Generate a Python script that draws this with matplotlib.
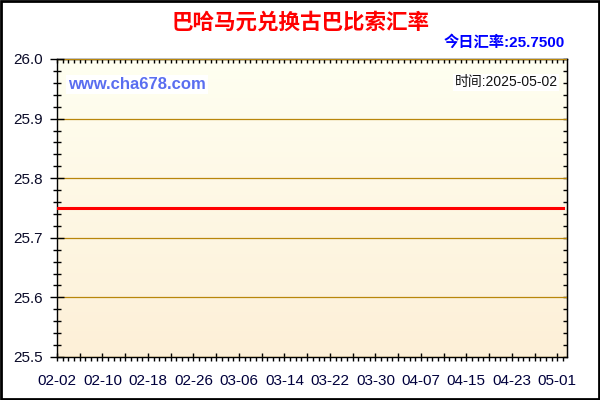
import numpy as np
import pandas as pd
import matplotlib
matplotlib.use("Agg")
import matplotlib.pyplot as plt
import matplotlib.dates as mdates
from matplotlib.ticker import MultipleLocator, FixedLocator, NullFormatter
from matplotlib.patches import Rectangle

# ---- data ----
title = "巴哈马元兑换古巴比索汇率"
today_label = "今日汇率:25.7500"
time_label = "时间:2025-05-02"
site_label = "www.cha678.com"
start_date = "2025-02-02"
end_date = "2025-05-02"
dates = pd.date_range(start_date, end_date, freq="D")
rates = [
    25.75, 25.75, 25.75, 25.75, 25.75, 25.75, 25.75, 25.75, 25.75, 25.75,
    25.75, 25.75, 25.75, 25.75, 25.75, 25.75, 25.75, 25.75, 25.75, 25.75,
    25.75, 25.75, 25.75, 25.75, 25.75, 25.75, 25.75, 25.75, 25.75, 25.75,
    25.75, 25.75, 25.75, 25.75, 25.75, 25.75, 25.75, 25.75, 25.75, 25.75,
    25.75, 25.75, 25.75, 25.75, 25.75, 25.75, 25.75, 25.75, 25.75, 25.75,
    25.75, 25.75, 25.75, 25.75, 25.75, 25.75, 25.75, 25.75, 25.75, 25.75,
    25.75, 25.75, 25.75, 25.75, 25.75, 25.75, 25.75, 25.75, 25.75, 25.75,
    25.75, 25.75, 25.75, 25.75, 25.75, 25.75, 25.75, 25.75, 25.75, 25.75,
    25.75, 25.75, 25.75, 25.75, 25.75, 25.75, 25.75, 25.75, 25.75, 25.75,
]
y_ticks = [25.5, 25.6, 25.7, 25.8, 25.9, 26.0]
x_tick_labels = ["02-02", "02-10", "02-18", "02-26", "03-06", "03-14",
                 "03-22", "03-30", "04-07", "04-15", "04-23", "05-01"]

plt.rcParams['font.family'] = ['Liberation Sans', 'Noto Sans CJK SC', 'DejaVu Sans']

fig = plt.figure(figsize=(6, 4), dpi=100)
fig.patch.set_facecolor("white")
ax = fig.add_axes([0.095, 0.1075, 0.85, 0.745])

x0 = mdates.date2num(pd.Timestamp(start_date))
xmin, xmax = x0, x0 + 89.7
ax.set_xlim(xmin, xmax)
ax.set_ylim(25.5, 26.0)

# gradient background
grad = np.linspace(0, 1, 256).reshape(-1, 1)
top = np.array([1.0, 1.0, 0.945])
bot = np.array([0.992, 0.94, 0.845])
img = top[None, None, :] * (1 - grad[:, :, None]) + bot[None, None, :] * grad[:, :, None]
ax.imshow(img, extent=[xmin, xmax, 25.5, 26.0], aspect="auto", origin="upper", zorder=0)

ax.grid(axis="y", color="#B8860B", linewidth=0.9, zorder=1)
ax.set_axisbelow(False)

ax.plot(mdates.date2num(dates), rates, color="#FF0000", linewidth=2.2, zorder=3, clip_on=True)

# x ticks
label_pos = [x0 + 8 * i for i in range(len(x_tick_labels))]
major_pos = [x0 + 4 * i for i in range(23)]
major_labels = []
for p in major_pos:
    if p in label_pos:
        major_labels.append(x_tick_labels[label_pos.index(p)])
    else:
        major_labels.append("")
ax.xaxis.set_major_locator(FixedLocator(major_pos))
ax.set_xticklabels(major_labels)
ax.xaxis.set_minor_locator(MultipleLocator(1))
ax.tick_params(axis="x", which="major", direction="inout", length=6, width=1,
               labelsize=11, labelcolor="#00003C", pad=9)
ax.tick_params(axis="x", which="minor", direction="out", length=3, width=1)

# y ticks
ax.set_yticks(y_ticks)
ax.set_yticklabels([f"{v:.1f}" for v in y_ticks])
ax.yaxis.set_minor_locator(MultipleLocator(0.02))
ax.tick_params(axis="y", which="major", direction="inout", length=10, width=1,
               labelsize=11, labelcolor="#0A0A28", pad=5)
ax.tick_params(axis="y", which="minor", direction="inout", length=6, width=1)

# top / right inward ticks
sx = ax.secondary_xaxis("top")
sx.xaxis.set_major_locator(MultipleLocator(1))
sx.xaxis.set_major_formatter(NullFormatter())
sx.tick_params(direction="in", length=3, width=1)
sy = ax.secondary_yaxis("right")
sy.yaxis.set_major_locator(MultipleLocator(0.02))
sy.yaxis.set_major_formatter(NullFormatter())
sy.tick_params(direction="in", length=3, width=1)

for s in ax.spines.values():
    s.set_color("black")
    s.set_linewidth(1)

# texts
fig.text(0.5, 0.945, title, ha="center", va="center", fontsize=15.5,
         fontweight="heavy", color="#FF0000", family=['Noto Sans CJK SC'])
fig.text(0.941, 0.893, today_label, ha="right", va="center", fontsize=11,
         fontweight="bold", color="#0000FF")
ax.text(0.022, 0.915, site_label, transform=ax.transAxes, ha="left", va="center",
        fontsize=12, fontweight="bold", color="#5A6EF0",
        bbox=dict(facecolor="white", edgecolor="none", pad=1.5), zorder=4)
ax.text(0.982, 0.922, time_label, transform=ax.transAxes, ha="right", va="center",
        fontsize=10, color="#111111",
        bbox=dict(facecolor="white", edgecolor="none", pad=1.2), zorder=4)

fig.patches.append(Rectangle((0.0015, 0.002), 0.997, 0.996, transform=fig.transFigure,
                             fill=False, edgecolor="black", linewidth=2))

fig.savefig("out.png", dpi=100)
